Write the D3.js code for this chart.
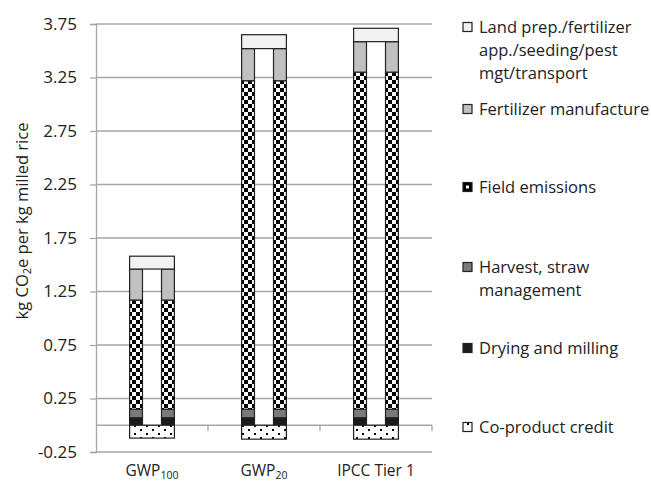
<!DOCTYPE html>
<html><head><meta charset="utf-8">
<script src="https://cdn.jsdelivr.net/npm/d3@7"></script>
<style>body{margin:0;background:#fff}svg{display:block}text{font-family:"Open Sans",sans-serif;fill:#222}</style>
</head><body><svg id="c" width="651" height="483"></svg>
<script>
const categories = ["GWP100", "GWP20", "IPCC Tier 1"];
const catLabels = [["GWP", "100"], ["GWP", "20"], ["IPCC Tier 1", ""]];
const coproduct = [-0.12, -0.13, -0.13];
const drying = [0.07, 0.07, 0.07];
const harvest = [0.08, 0.08, 0.08];
const field = [1.02, 3.07, 3.15];
const fertilizer = [0.29, 0.30, 0.285];
const landprep = [0.12, 0.13, 0.125];
const yTicks = [-0.25, 0.25, 0.75, 1.25, 1.75, 2.25, 2.75, 3.25, 3.75];
const legendLabels = [
  ["Land prep./fertilizer", "app./seeding/pest", "mgt/transport"],
  ["Fertilizer manufacture"],
  ["Field emissions"],
  ["Harvest, straw", "management"],
  ["Drying and milling"],
  ["Co-product credit"]
];

const svg = d3.select("#c");
const defs = svg.append("defs");
const chk = defs.append("pattern").attr("id","chk").attr("patternUnits","userSpaceOnUse").attr("width",8).attr("height",8);
chk.append("rect").attr("width",8).attr("height",8).attr("fill","#fff");
chk.append("rect").attr("width",4).attr("height",4).attr("fill","#000");
chk.append("rect").attr("x",4).attr("y",4).attr("width",4).attr("height",4).attr("fill","#000");
const dots = defs.append("pattern").attr("id","dots").attr("patternUnits","userSpaceOnUse").attr("width",12).attr("height",8);
dots.append("rect").attr("width",12).attr("height",8).attr("fill","#fff");
dots.append("rect").attr("x",2).attr("y",1).attr("width",2).attr("height",2).attr("fill","#000");
dots.append("rect").attr("x",8).attr("y",5).attr("width",2).attr("height",2).attr("fill","#000");

const series = [
  {key:"landprep", vals:landprep, fill:"#f2f2f2", split:false},
  {key:"fertilizer", vals:fertilizer, fill:"#c0c0c0", split:true},
  {key:"field", vals:field, fill:"url(#chk)", split:true},
  {key:"harvest", vals:harvest, fill:"#7a7a7a", split:true},
  {key:"drying", vals:drying, fill:"#1c1c1c", split:true},
  {key:"coproduct", vals:coproduct, fill:"url(#dots)", split:false}
];

const x = d3.scaleBand().domain(categories).range([96, 432]).padding(0);
const y = d3.scaleLinear().domain([-0.25, 3.75]).range([452, 24]);

// gridlines
svg.append("g").selectAll("line").data(yTicks).join("line")
  .attr("x1",96).attr("x2",432).attr("y1",d=>y(d)).attr("y2",d=>y(d))
  .attr("stroke","#a6a6a6").attr("stroke-width",1.3);

// y axis
const fmt = d3.format(".2f");
const ya = svg.append("g").attr("transform","translate(96,0)")
  .call(d3.axisLeft(y).tickValues(yTicks).tickSize(6).tickPadding(13).tickFormat(d=>fmt(d).replace("\u2212","-")));
ya.selectAll("path,line").attr("stroke","#a6a6a6").attr("stroke-width",1.3);
ya.selectAll("text").attr("font-size",17).attr("font-family","Open Sans").attr("fill","#222");

// category axis at zero
svg.append("line").attr("x1",96).attr("x2",432).attr("y1",y(0)).attr("y2",y(0)).attr("stroke","#a6a6a6").attr("stroke-width",1.3);
const bounds = categories.map(c=>x(c)+x.bandwidth());
svg.append("g").selectAll("line").data(bounds).join("line")
  .attr("x1",d=>d).attr("x2",d=>d).attr("y1",y(0)).attr("y2",y(0)+6)
  .attr("stroke","#a6a6a6").attr("stroke-width",1.3);

// stacked bars
const barFrac = 0.40, colFrac = 0.115;
categories.forEach((c,i)=>{
  const bw = x.bandwidth()*barFrac;
  const cw = x.bandwidth()*colFrac;
  const bx = x(c) + (x.bandwidth()-bw)/2;
  let pos = 0;
  const order = ["drying","harvest","field","fertilizer","landprep"];
  const g = svg.append("g");
  order.forEach(k=>{
    const s = series.find(d=>d.key===k);
    const v = s.vals[i];
    const y0 = y(pos), y1 = y(pos+v);
    pos += v;
    const rects = s.split ? [[bx, cw],[bx+bw-cw, cw]] : [[bx, bw]];
    rects.forEach(([rx,rw])=>{
      g.append("rect").attr("x",rx).attr("y",y1).attr("width",rw).attr("height",y0-y1)
        .attr("fill",s.fill).attr("stroke","#222").attr("stroke-width",1.2);
    });
  });
  const cp = series.find(d=>d.key==="coproduct");
  g.append("rect").attr("x",bx).attr("y",y(0)).attr("width",bw).attr("height",y(cp.vals[i])-y(0))
    .attr("fill",cp.fill).attr("stroke","#222").attr("stroke-width",1.2);
});

// category labels
categories.forEach((c,i)=>{
  const t = svg.append("text").attr("x",x(c)+x.bandwidth()/2).attr("y",476)
    .attr("text-anchor","middle").attr("font-size",15.5);
  t.append("tspan").text(catLabels[i][0]);
  if (catLabels[i][1]) t.append("tspan").attr("font-size",10.5).attr("dy",3).text(catLabels[i][1]);
});

// y title
const yt = svg.append("text").attr("transform","translate(28,221) rotate(-90)")
  .attr("text-anchor","middle").attr("font-size",16.5);
yt.append("tspan").text("kg CO");
yt.append("tspan").attr("font-size",11).attr("dy",3).text("2");
yt.append("tspan").attr("dy",-3).text("e per kg milled rice");

// legend
const legY = [27, 109, 187, 267, 348, 427];
const lg = svg.append("g");
series.forEach((s,i)=>{
  lg.append("rect").attr("x",463).attr("y",legY[i]-4.5).attr("width",9).attr("height",9)
    .attr("fill", s.key==="field" ? "#000" : (s.key==="coproduct" ? "#fff" : s.fill))
    .attr("stroke","#222").attr("stroke-width",1.2);
  if (s.key==="field") lg.append("rect").attr("x",466).attr("y",legY[i]-1.5).attr("width",3).attr("height",3).attr("fill","#fff");
  if (s.key==="coproduct") lg.append("rect").attr("x",467).attr("y",legY[i]-4).attr("width",2).attr("height",2).attr("fill","#000");
  const t = lg.append("text").attr("x",479).attr("y",legY[i]).attr("font-size",16.5);
  legendLabels[i].forEach((l,j)=>t.append("tspan").attr("x",479).attr("dy", j===0?"0.35em":"1.4em").text(l));
});
</script></body></html>
